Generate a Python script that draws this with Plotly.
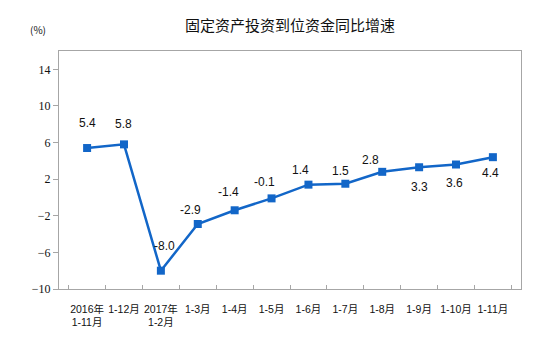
import plotly.graph_objects as go

# 固定资产投资到位资金同比增速 (%)
categories = ["2016年<br>1-11月", "1-12月", "2017年<br>1-2月", "1-3月", "1-4月", "1-5月",
              "1-6月", "1-7月", "1-8月", "1-9月", "1-10月", "1-11月"]
growth = [5.4, 5.8, -8.0, -2.9, -1.4, -0.1, 1.4, 1.5, 2.8, 3.3, 3.6, 4.4]
y_ticks = [-10, -6, -2, 2, 6, 10, 14]

# label placement (pixel offsets from each marker)
label_dx = [0, 0, 4, -7, -6, -7, -8, -5, -12, 0, -2, -2]
label_dy = [25, 20, 25, 14, 18, 16, 15, 13, 12, -20, -18, -16]

blue = "#1266C8"
axis_gray = "#A6A6A6"

fig = go.Figure()
fig.add_trace(go.Scatter(
    x=categories, y=growth, mode="lines+markers",
    line=dict(color=blue, width=2.5),
    marker=dict(symbol="square", size=8, color=blue),
    hoverinfo="skip", showlegend=False,
))

for i, v in enumerate(growth):
    fig.add_annotation(x=categories[i], y=v, text=f"{v:.1f}", showarrow=False,
                       xshift=label_dx[i], yshift=label_dy[i],
                       font=dict(family="Liberation Sans, Arial, sans-serif", size=12, color="#111111"))

fig.add_annotation(text="固定资产投资到位资金同比增速", xref="paper", yref="paper",
                   x=0.5, y=1.0, yshift=27, yanchor="middle", showarrow=False, xanchor="center",
                   font=dict(family="Noto Sans CJK SC", size=15, color="#111111"))
fig.add_annotation(text="(%)", xref="paper", yref="paper", x=-0.0455, y=1.0, yshift=22,
                   yanchor="middle", showarrow=False, xanchor="center",
                   font=dict(family="Noto Sans CJK SC", size=10, color="#111111"))

fig.update_layout(
    width=548, height=346,
    margin=dict(l=59, r=27, t=51, b=57),
    paper_bgcolor="white", plot_bgcolor="white",
    xaxis=dict(
        type="category",
        showline=True, linecolor=axis_gray, linewidth=1, mirror=True,
        ticks="inside", ticklen=4, tickcolor=axis_gray, tickson="boundaries",
        showgrid=False, zeroline=False, tickangle=0, ticklabelstandoff=10,
        tickfont=dict(family="Liberation Sans, Noto Sans CJK SC", size=10.5, color="#111111"),
    ),
    yaxis=dict(
        range=[-10, 16], tickmode="array", tickvals=y_ticks,
        showline=True, linecolor=axis_gray, linewidth=1, mirror=True,
        ticks="outside", ticklen=5, tickcolor=axis_gray,
        showgrid=False, zeroline=False,
        tickfont=dict(family="Liberation Serif, Times New Roman, serif", size=12, color="#111111"),
    ),
)

fig.write_html("out.html")
